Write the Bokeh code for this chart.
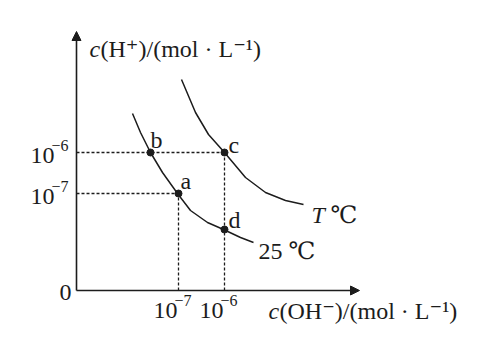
from bokeh.plotting import figure
from bokeh.models import Range1d, Arrow, NormalHead
from bokeh.core.properties import value
from bokeh.embed import file_html
from bokeh.resources import INLINE

# ---- data (schematic axis units) ----
x_tick_pos = [1.02, 1.48]
x_tick_base = ["10", "10"]
x_tick_exp = ["\u22127", "\u22126"]
y_tick_pos = [0.97, 1.38]
y_tick_base = ["10", "10"]
y_tick_exp = ["\u22127", "\u22126"]

curve25_x = [0.56, 0.64, 0.74, 0.86, 1.01, 1.14, 1.31, 1.47, 1.64, 1.77]
curve25_y = [1.77, 1.58, 1.38, 1.18, 0.97, 0.80, 0.68, 0.61, 0.53, 0.48]
curveT_x = [1.05, 1.19, 1.32, 1.48, 1.69, 1.89, 2.09, 2.27]
curveT_y = [2.11, 1.78, 1.56, 1.38, 1.13, 0.98, 0.90, 0.86]

point_names = ["a", "b", "c", "d"]
point_x = [1.02, 0.74, 1.48, 1.48]
point_y = [0.97, 1.38, 1.38, 0.61]

x_axis_end = 2.83
y_axis_end = 2.59

FONT = "'Liberation Serif', 'DejaVu Serif', serif"
INK = "#1c1c1c"
FS = "24px"
FS_SUP = "16px"
B = -8  # baseline correction (px)

p = figure(width=491, height=347, output_backend="svg", toolbar_location=None,
           x_range=Range1d(-0.76, 4.15), y_range=Range1d(-0.57, 2.90),
           min_border=0)
p.axis.visible = False
p.grid.visible = False
p.outline_line_color = None
p.background_fill_color = "white"

# axes with arrow heads
p.add_layout(Arrow(end=NormalHead(size=9, fill_color=INK, line_color=INK, line_width=1),
                   x_start=0, y_start=0, x_end=0, y_end=y_axis_end,
                   line_color=INK, line_width=1.6))
p.add_layout(Arrow(end=NormalHead(size=9, fill_color=INK, line_color=INK, line_width=1),
                   x_start=0, y_start=0, x_end=x_axis_end, y_end=0,
                   line_color=INK, line_width=1.6))

# dashed guide lines
hx1 = [max(px for px, py in zip(point_x, point_y) if py == yv) for yv in y_tick_pos]
p.segment(x0=[0] * len(y_tick_pos), y0=y_tick_pos, x1=hx1, y1=y_tick_pos,
          line_color=INK, line_width=1.3, line_dash="3 2")
vy1 = [max(py for px, py in zip(point_x, point_y) if px == xv) for xv in x_tick_pos]
p.segment(x0=x_tick_pos, y0=[0] * len(x_tick_pos), x1=x_tick_pos, y1=vy1,
          line_color=INK, line_width=1.3, line_dash="3 2")

# curves
p.line(curve25_x, curve25_y, line_color=INK, line_width=1.5)
p.line(curveT_x, curveT_y, line_color=INK, line_width=1.5)

# points
p.scatter(point_x, point_y, size=7, marker="circle", fill_color=INK, line_color=INK)

# point labels
lbl_dx = {"a": 2, "b": 0, "c": 4, "d": 4}
lbl_dy = {"a": 5, "b": 5, "c": 0, "d": 2}
p.text(x=point_x, y=point_y, text=point_names,
       x_offset=[lbl_dx[n] for n in point_names], y_offset=[-lbl_dy[n] + B for n in point_names],
       text_font=value(FONT), text_font_size=FS, text_color=INK,
       text_align="left", text_baseline="alphabetic")

# tick labels (base + superscript exponent)
p.text(x=[0] * len(y_tick_pos), y=y_tick_pos, text=y_tick_base,
       x_offset=-46, y_offset=11 + B, text_font=value(FONT), text_font_size=FS,
       text_color=INK, text_align="left", text_baseline="alphabetic")
p.text(x=[0] * len(y_tick_pos), y=y_tick_pos, text=y_tick_exp,
       x_offset=-25, y_offset=1 + B, text_font=value(FONT), text_font_size=FS_SUP,
       text_color=INK, text_align="left", text_baseline="alphabetic")
p.text(x=x_tick_pos, y=[0] * len(x_tick_pos), text=x_tick_base,
       x_offset=-25, y_offset=28 + B, text_font=value(FONT), text_font_size=FS,
       text_color=INK, text_align="left", text_baseline="alphabetic")
p.text(x=x_tick_pos, y=[0] * len(x_tick_pos), text=x_tick_exp,
       x_offset=-4, y_offset=18 + B, text_font=value(FONT), text_font_size=FS_SUP,
       text_color=INK, text_align="left", text_baseline="alphabetic")
p.text(x=[0], y=[0], text=["0"], x_offset=-5, y_offset=10 + B,
       text_font=value(FONT), text_font_size=FS, text_color=INK,
       text_align="right", text_baseline="alphabetic")

# axis titles
SEP = " \u00b7 "
p.text(x=[0], y=[y_axis_end], text=["c"], x_offset=13, y_offset=25 + B,
       text_font=value(FONT), text_font_style="italic", text_font_size=FS,
       text_color=INK, text_align="left", text_baseline="alphabetic")
p.text(x=[0], y=[y_axis_end], text=["(H\u207a)/(mol" + SEP + "L\u207b\u00b9)"], x_offset=24, y_offset=25 + B,
       text_font=value(FONT), text_font_size=FS,
       text_color=INK, text_align="left", text_baseline="alphabetic")
p.text(x=[x_axis_end], y=[0], text=["c"], x_offset=-91, y_offset=28 + B,
       text_font=value(FONT), text_font_style="italic", text_font_size=FS,
       text_color=INK, text_align="left", text_baseline="alphabetic")
p.text(x=[x_axis_end], y=[0], text=["(OH\u207b)/(mol" + SEP + "L\u207b\u00b9)"], x_offset=-80, y_offset=28 + B,
       text_font=value(FONT), text_font_size=FS,
       text_color=INK, text_align="left", text_baseline="alphabetic")

# curve labels
p.text(x=[curveT_x[-1]], y=[curveT_y[-1]], text=["T"], x_offset=8, y_offset=18 + B,
       text_font=value(FONT), text_font_style="italic", text_font_size=FS,
       text_color=INK, text_align="left", text_baseline="alphabetic")
p.text(x=[curveT_x[-1]], y=[curveT_y[-1]], text=["\u2103"], x_offset=27, y_offset=18 + B,
       text_font=value(FONT), text_font_size=FS,
       text_color=INK, text_align="left", text_baseline="alphabetic")
p.text(x=[curve25_x[-1]], y=[curve25_y[-1]], text=["25 \u2103"], x_offset=5, y_offset=16 + B,
       text_font=value(FONT), text_font_size=FS,
       text_color=INK, text_align="left", text_baseline="alphabetic")

open("out.html", "w").write(file_html(p, INLINE))
